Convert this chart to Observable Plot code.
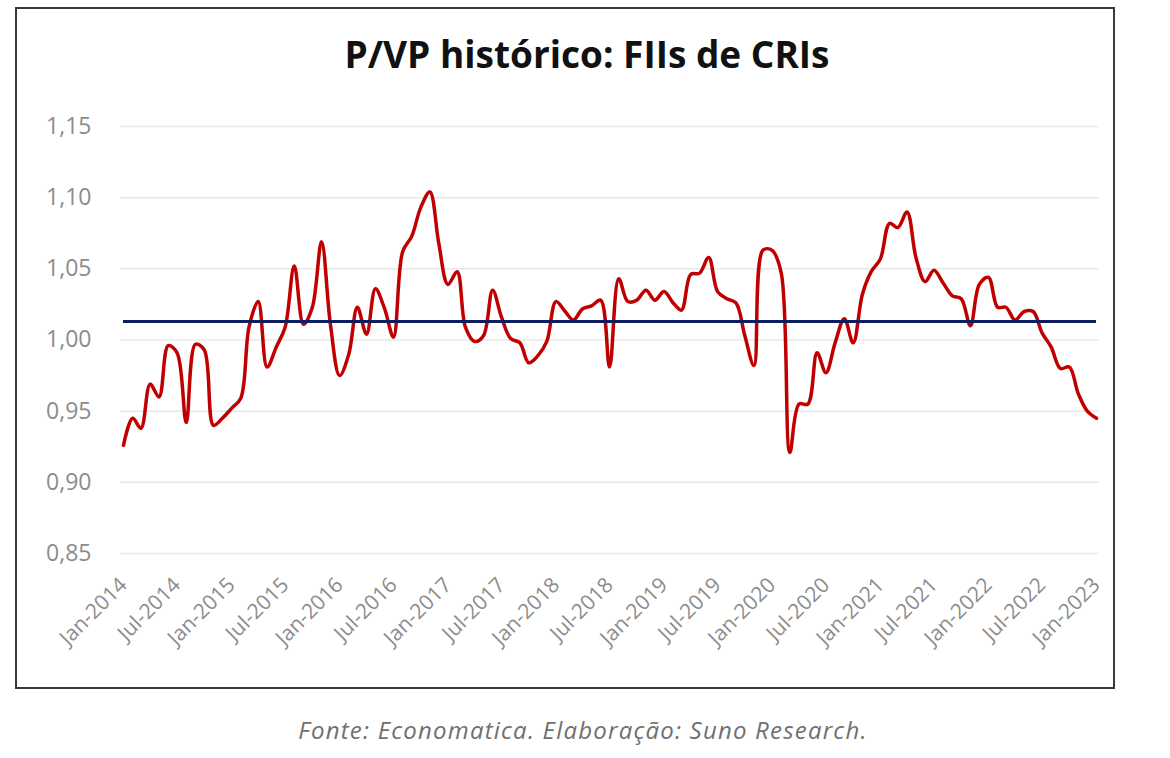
<!DOCTYPE html>
<html>
<head>
<meta charset="utf-8">
<script src="https://cdn.jsdelivr.net/npm/d3@7"></script>
<script src="https://cdn.jsdelivr.net/npm/@observablehq/plot@0.6"></script>
<style>
  body { margin: 0; background: #fff; }
  #page { position: relative; width: 1170px; height: 758px; font-family: "Open Sans", sans-serif; }
  #frame { position: absolute; left: 15px; top: 7px; width: 1096px; height: 678px; border: 2px solid #3a3a3a; }
  #title { position: absolute; left: 0; width: 1174px; top: 35px; line-height: 1; text-align: center;
           font-weight: 700; font-size: 37px; color: #111; }
  #chart { position: absolute; left: 0; top: 100px; }
  #caption { position: absolute; left: 0; width: 1166px; top: 718px; line-height: 1; text-align: center;
             font-style: italic; font-size: 24px; letter-spacing: 1.2px; color: #707070; }
</style>
</head>
<body>
<div id="page">
  <div id="frame"></div>
  <div id="title">P/VP histórico: FIIs de CRIs</div>
  <div id="chart"></div>
  <div id="caption">Fonte: Economatica. Elaboração: Suno Research.</div>
</div>
<script>
// monthly P/VP, Jan-2014 .. Jan-2023
const pvp = [
  0.926, 0.945, 0.938, 0.969, 0.960, 0.996, 0.991, 0.942, 0.997, 0.993, 0.940, 0.945, // 2014
  0.952, 0.959, 1.009, 1.027, 0.981, 0.995, 1.009, 1.052, 1.011, 1.023, 1.069, 1.011, // 2015
  0.975, 0.990, 1.023, 1.004, 1.036, 1.022, 1.002, 1.062, 1.073, 1.093, 1.104, 1.068, // 2016
  1.039, 1.048, 1.009, 0.999, 1.003, 1.035, 1.016, 1.001, 0.998, 0.984, 0.989, 0.999, // 2017
  1.027, 1.020, 1.014, 1.022, 1.024, 1.028, 0.981, 1.043, 1.027, 1.028, 1.035, 1.028, // 2018
  1.034, 1.026, 1.021, 1.046, 1.047, 1.058, 1.034, 1.029, 1.026, 1.003, 0.982, 1.063, // 2019
  1.063, 1.047, 0.921, 0.955, 0.955, 0.991, 0.977, 0.998, 1.015, 0.998, 1.032, 1.048, // 2020
  1.057, 1.082, 1.079, 1.090, 1.058, 1.041, 1.049, 1.040, 1.031, 1.029, 1.010, 1.039, // 2021
  1.044, 1.023, 1.023, 1.014, 1.020, 1.020, 1.005, 0.995, 0.980, 0.981, 0.962, 0.950, // 2022
  0.945 // Jan-2023
];
const startYear = 2014;
const mediaHistorica = 1.013;

const yTicks = [0.85, 0.90, 0.95, 1.00, 1.05, 1.10, 1.15];
const xTickLabels = [
  "Jan-2014", "Jul-2014", "Jan-2015", "Jul-2015", "Jan-2016", "Jul-2016",
  "Jan-2017", "Jul-2017", "Jan-2018", "Jul-2018", "Jan-2019", "Jul-2019",
  "Jan-2020", "Jul-2020", "Jan-2021", "Jul-2021", "Jan-2022", "Jul-2022", "Jan-2023"
];

const render = () => {
  // one row per month
  const rows = pvp.map((v, i) => ({ date: new Date(Date.UTC(startYear, i, 1)), value: v }));
  const first = rows[0].date;
  const last = rows[rows.length - 1].date;
  const xTicks = xTickLabels.map((_, i) => new Date(Date.UTC(startYear, i * 6, 1)));
  const fmtX = (d) => xTickLabels[xTicks.findIndex((t) => +t === +d)];
  const fmtY = (d) => d3.format(".2f")(d).replace(".", ",");

  const chart = Plot.plot({
    width: 1170,
    height: 560,
    marginLeft: 120,
    marginRight: 71,
    marginTop: 26,
    marginBottom: 107,
    style: { fontFamily: '"Open Sans", sans-serif', background: "transparent" },
    x: { type: "utc", domain: [first, last], insetLeft: 3, insetRight: 3 },
    y: { domain: [0.85, 1.15] },
    marks: [
      Plot.ruleY(yTicks, { stroke: "#e8e8e8", strokeWidth: 1.5 }),
      Plot.axisY({
        ticks: yTicks, tickFormat: fmtY, tickSize: 0, tickPadding: 29,
        fontSize: 23, fill: "#8c8c8c", label: null
      }),
      Plot.axisX({
        ticks: xTicks, tickFormat: fmtX, tickSize: 0, tickPadding: 28, tickRotate: -45,
        textAnchor: "end", fontSize: 21, fill: "#8c8c8c", label: null
      }),
      Plot.line(rows, { x: "date", y: "value", stroke: "#c00000", strokeWidth: 3.5, curve: "catmull-rom" }),
      Plot.ruleY([mediaHistorica], { x1: first, x2: last, stroke: "#0b1f5e", strokeWidth: 3 })
    ]
  });

  document.getElementById("chart").append(chart);
};

if (document.readyState === "loading") {
  document.addEventListener("DOMContentLoaded", render);
} else {
  render();
}
</script>
</body>
</html>
